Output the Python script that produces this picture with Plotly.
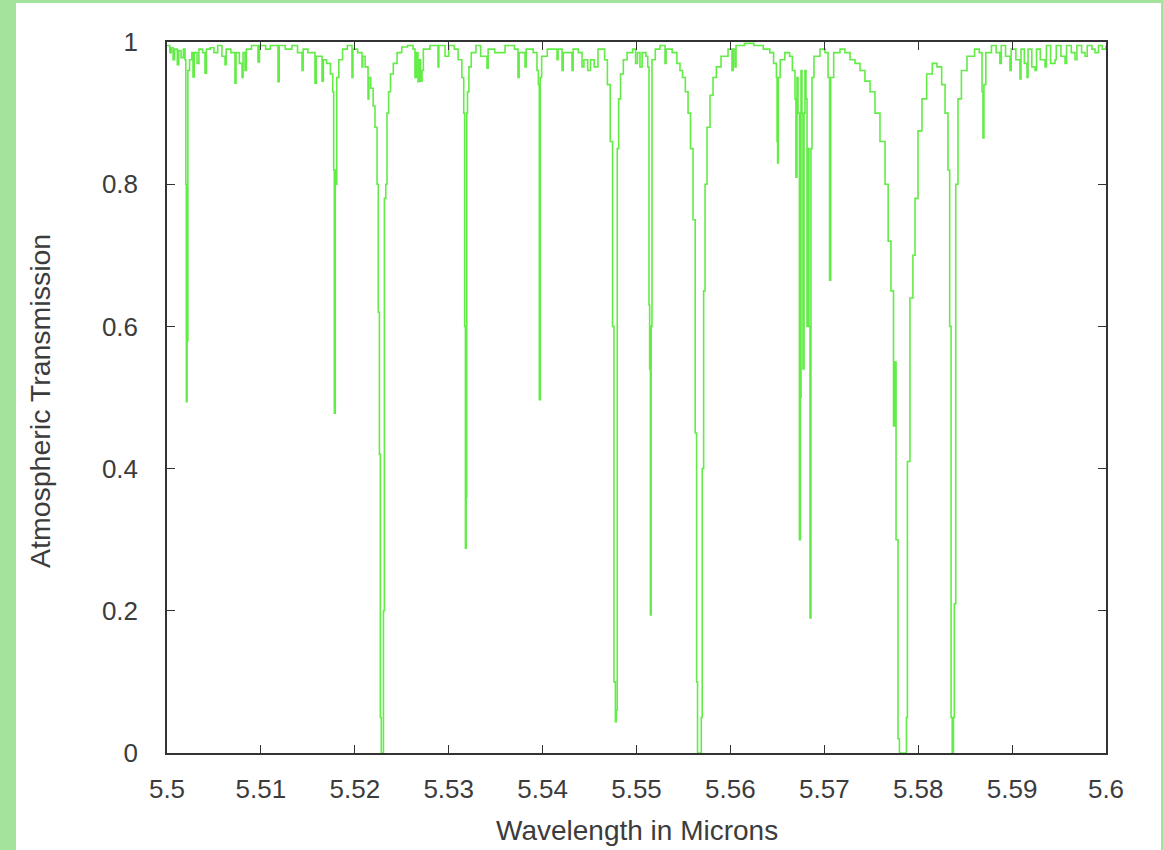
import plotly.graph_objects as go

# Wavelength (microns) and transmission values
wavelength = [
    5.50000, 5.50030, 5.50045, 5.50065, 5.50080, 5.50110, 5.50125, 5.50150, 5.50175, 5.50192,
    5.50200, 5.50206, 5.50214, 5.50222, 5.50240, 5.50265, 5.50277, 5.50290, 5.50320, 5.50340,
    5.50380, 5.50405, 5.50420, 5.50460, 5.50500, 5.50540, 5.50585, 5.50618, 5.50630, 5.50680,
    5.50724, 5.50735, 5.50770, 5.50799, 5.50810, 5.50831, 5.50845, 5.50900, 5.50969, 5.50985,
    5.51050, 5.51100, 5.51182, 5.51195, 5.51260, 5.51330, 5.51390, 5.51438, 5.51450, 5.51500,
    5.51576, 5.51590, 5.51651, 5.51665, 5.51700, 5.51740, 5.51765, 5.51775, 5.51782, 5.51792,
    5.51800, 5.51808, 5.51830, 5.51870, 5.51920, 5.51970, 5.51980, 5.52030, 5.52077, 5.52085,
    5.52110, 5.52141, 5.52150, 5.52170, 5.52195, 5.52215, 5.52237, 5.52250, 5.52262, 5.52272,
    5.52282, 5.52295, 5.52305, 5.52315, 5.52330, 5.52343, 5.52360, 5.52380, 5.52410, 5.52450,
    5.52500, 5.52560, 5.52620, 5.52641, 5.52655, 5.52673, 5.52685, 5.52700, 5.52716, 5.52730,
    5.52800, 5.52886, 5.52895, 5.52961, 5.53000, 5.53060, 5.53100, 5.53140, 5.53160, 5.53170,
    5.53178, 5.53186, 5.53192, 5.53200, 5.53215, 5.53240, 5.53290, 5.53340, 5.53408, 5.53420,
    5.53490, 5.53568, 5.53600, 5.53700, 5.53738, 5.53750, 5.53813, 5.53825, 5.53900, 5.53940,
    5.53955, 5.53965, 5.53975, 5.53990, 5.54050, 5.54154, 5.54165, 5.54207, 5.54220, 5.54313,
    5.54325, 5.54380, 5.54420, 5.54440, 5.54480, 5.54510, 5.54550, 5.54590, 5.54630, 5.54660,
    5.54690, 5.54720, 5.54745, 5.54760, 5.54775, 5.54785, 5.54795, 5.54810, 5.54830, 5.54860,
    5.54900, 5.54960, 5.54990, 5.55010, 5.55037, 5.55060, 5.55100, 5.55120, 5.55133, 5.55140,
    5.55148, 5.55156, 5.55165, 5.55200, 5.55250, 5.55304, 5.55315, 5.55380, 5.55430, 5.55463,
    5.55490, 5.55520, 5.55549, 5.55575, 5.55602, 5.55625, 5.55640, 5.55650, 5.55675, 5.55690,
    5.55700, 5.55715, 5.55730, 5.55751, 5.55783, 5.55815, 5.55850, 5.55900, 5.55975, 5.56017,
    5.56030, 5.56049, 5.56060, 5.56150, 5.56250, 5.56350, 5.56420, 5.56460, 5.56490, 5.56497,
    5.56503, 5.56510, 5.56530, 5.56580, 5.56630, 5.56660, 5.56688, 5.56698, 5.56709, 5.56720,
    5.56735, 5.56745, 5.56752, 5.56762, 5.56773, 5.56784, 5.56794, 5.56805, 5.56816, 5.56826,
    5.56837, 5.56848, 5.56858, 5.56869, 5.56890, 5.56954, 5.57008, 5.57040, 5.57056, 5.57068,
    5.57100, 5.57167, 5.57220, 5.57274, 5.57327, 5.57380, 5.57433, 5.57487, 5.57540, 5.57593,
    5.57647, 5.57680, 5.57710, 5.57725, 5.57737, 5.57748, 5.57764, 5.57785, 5.57800, 5.57860,
    5.57875, 5.57885, 5.57912, 5.57944, 5.57966, 5.57998, 5.58040, 5.58090, 5.58150, 5.58200,
    5.58250, 5.58286, 5.58317, 5.58335, 5.58350, 5.58362, 5.58375, 5.58385, 5.58400, 5.58424,
    5.58460, 5.58520, 5.58600, 5.58650, 5.58680, 5.58690, 5.58700, 5.58720, 5.58780, 5.58830,
    5.58870, 5.58885, 5.58930, 5.58978, 5.58990, 5.59040, 5.59084, 5.59095, 5.59130, 5.59159,
    5.59170, 5.59210, 5.59244, 5.59260, 5.59300, 5.59351, 5.59365, 5.59410, 5.59457, 5.59470,
    5.59520, 5.59564, 5.59580, 5.59630, 5.59670, 5.59690, 5.59740, 5.59777, 5.59800, 5.59850,
    5.59883, 5.59920, 5.59960, 5.60000,
]

transmission = [
    0.995, 0.985, 0.992, 0.975, 0.990, 0.968, 0.988, 0.978, 0.990, 0.975,
    0.800, 0.494, 0.580, 0.960, 0.975, 0.985, 0.951, 0.985, 0.970, 0.990,
    0.985, 0.956, 0.990, 0.992, 0.985, 0.995, 0.980, 0.968, 0.990, 0.985,
    0.942, 0.985, 0.970, 0.950, 0.985, 0.960, 0.990, 0.995, 0.972, 0.995,
    0.990, 0.995, 0.944, 0.995, 0.990, 0.995, 0.985, 0.960, 0.990, 0.985,
    0.942, 0.980, 0.945, 0.975, 0.970, 0.955, 0.930, 0.820, 0.478, 0.820,
    0.800, 0.950, 0.975, 0.990, 0.995, 0.950, 0.990, 0.985, 0.965, 0.980,
    0.965, 0.920, 0.950, 0.935, 0.910, 0.880, 0.800, 0.620, 0.420, 0.050,
    0.000, 0.000, 0.200, 0.780, 0.800, 0.900, 0.930, 0.955, 0.970, 0.985,
    0.993, 0.995, 0.990, 0.950, 0.985, 0.944, 0.975, 0.945, 0.960, 0.990,
    0.995, 0.965, 0.995, 0.980, 0.995, 0.990, 0.975, 0.950, 0.900, 0.600,
    0.288, 0.360, 0.900, 0.930, 0.965, 0.985, 0.995, 0.980, 0.963, 0.990,
    0.985, 0.985, 0.995, 0.990, 0.950, 0.985, 0.965, 0.990, 0.985, 0.960,
    0.940, 0.497, 0.950, 0.980, 0.990, 0.975, 0.990, 0.960, 0.985, 0.960,
    0.990, 0.985, 0.965, 0.975, 0.960, 0.975, 0.965, 0.990, 0.990, 0.975,
    0.940, 0.860, 0.600, 0.100, 0.044, 0.060, 0.850, 0.920, 0.955, 0.975,
    0.985, 0.990, 0.970, 0.985, 0.965, 0.985, 0.980, 0.965, 0.630, 0.540,
    0.194, 0.600, 0.975, 0.990, 0.995, 0.970, 0.990, 0.985, 0.970, 0.960,
    0.950, 0.930, 0.900, 0.850, 0.750, 0.450, 0.100, 0.000, 0.000, 0.050,
    0.400, 0.650, 0.800, 0.880, 0.925, 0.950, 0.965, 0.980, 0.990, 0.960,
    0.990, 0.965, 0.995, 0.998, 0.995, 0.990, 0.985, 0.970, 0.950, 0.860,
    0.830, 0.950, 0.975, 0.985, 0.980, 0.960, 0.920, 0.810, 0.950, 0.900,
    0.300, 0.500, 0.960, 0.900, 0.540, 0.900, 0.960, 0.920, 0.600, 0.850,
    0.600, 0.190, 0.850, 0.950, 0.980, 0.990, 0.985, 0.950, 0.665, 0.950,
    0.985, 0.990, 0.985, 0.975, 0.970, 0.960, 0.945, 0.930, 0.900, 0.860,
    0.800, 0.720, 0.650, 0.650, 0.460, 0.550, 0.300, 0.020, 0.000, 0.000,
    0.050, 0.410, 0.640, 0.700, 0.780, 0.875, 0.920, 0.955, 0.970, 0.965,
    0.940, 0.900, 0.820, 0.600, 0.050, 0.000, 0.050, 0.210, 0.800, 0.920,
    0.960, 0.980, 0.990, 0.985, 0.930, 0.865, 0.940, 0.985, 0.995, 0.985,
    0.970, 0.995, 0.980, 0.960, 0.990, 0.975, 0.948, 0.990, 0.970, 0.950,
    0.990, 0.965, 0.960, 0.990, 0.975, 0.965, 0.995, 0.970, 0.975, 0.995,
    0.980, 0.970, 0.995, 0.985, 0.975, 0.995, 0.985, 0.980, 0.995, 0.990,
    0.985, 0.995, 0.990, 0.995,
]

x_ticks = [5.50, 5.51, 5.52, 5.53, 5.54, 5.55, 5.56, 5.57, 5.58, 5.59, 5.60]
x_tick_labels = ["5.5", "5.51", "5.52", "5.53", "5.54", "5.55", "5.56", "5.57", "5.58", "5.59", "5.6"]
y_ticks = [0, 0.2, 0.4, 0.6, 0.8, 1.0]
y_tick_labels = ["0", "0.2", "0.4", "0.6", "0.8", "1"]

LINE_GREEN = "#62ec46"
FRAME_GREEN = "#a4e39c"
AXIS = "#333333"
TEXT = "#3c3c3c"
FONT = "Liberation Sans, Arial, sans-serif"

fig = go.Figure()
fig.add_trace(go.Scatter(
    x=wavelength, y=transmission, mode="lines",
    line=dict(color=LINE_GREEN, width=1.6, shape="hv"),
    showlegend=False, hoverinfo="x+y",
))

W, H = 1163, 850
L, R, T, B = 167, 1106, 42, 753
pw, ph = R - L, B - T

def px(xp):
    return (xp - L) / pw

def py(yp):
    return (B - yp) / ph

axis_common = dict(
    showline=True, linecolor=AXIS, linewidth=1.5, mirror="ticks",
    ticks="inside", ticklen=8, tickwidth=1.3, tickcolor=AXIS,
    showgrid=False, zeroline=False,
    tickfont=dict(family=FONT, size=26, color=TEXT),
)

fig.update_layout(
    width=W, height=H,
    margin=dict(l=L, r=W - R, t=T, b=H - B, pad=0),
    paper_bgcolor="white", plot_bgcolor="white",
    xaxis=dict(range=[5.5, 5.6], tickmode="array", tickvals=x_ticks,
               ticktext=x_tick_labels, ticklabelstandoff=12, **axis_common),
    yaxis=dict(range=[0, 1], tickmode="array", tickvals=y_ticks,
               ticktext=y_tick_labels, ticklabelstandoff=22, **axis_common),
    annotations=[
        dict(text="Wavelength in Microns", xref="paper", yref="paper",
             x=0.5, y=py(848), xanchor="center", yanchor="bottom",
             showarrow=False, font=dict(family=FONT, size=28, color=TEXT)),
        dict(text="Atmospheric Transmission", xref="paper", yref="paper",
             x=px(40), y=py(401), xanchor="center", yanchor="middle", textangle=-90,
             showarrow=False, font=dict(family=FONT, size=28.5, color=TEXT)),
    ],
    shapes=[
        dict(type="rect", xref="paper", yref="paper", x0=px(0), x1=px(16),
             y0=py(H + 5), y1=py(-5), fillcolor=FRAME_GREEN, line=dict(width=0), layer="below"),
        dict(type="rect", xref="paper", yref="paper", x0=px(0), x1=px(W + 5),
             y0=py(3), y1=py(-5), fillcolor=FRAME_GREEN, line=dict(width=0), layer="below"),
        dict(type="rect", xref="paper", yref="paper", x0=px(1161), x1=px(W + 5),
             y0=py(H + 5), y1=py(-5), fillcolor=FRAME_GREEN, line=dict(width=0), layer="below"),
    ],
)

fig.write_html("out.html")
